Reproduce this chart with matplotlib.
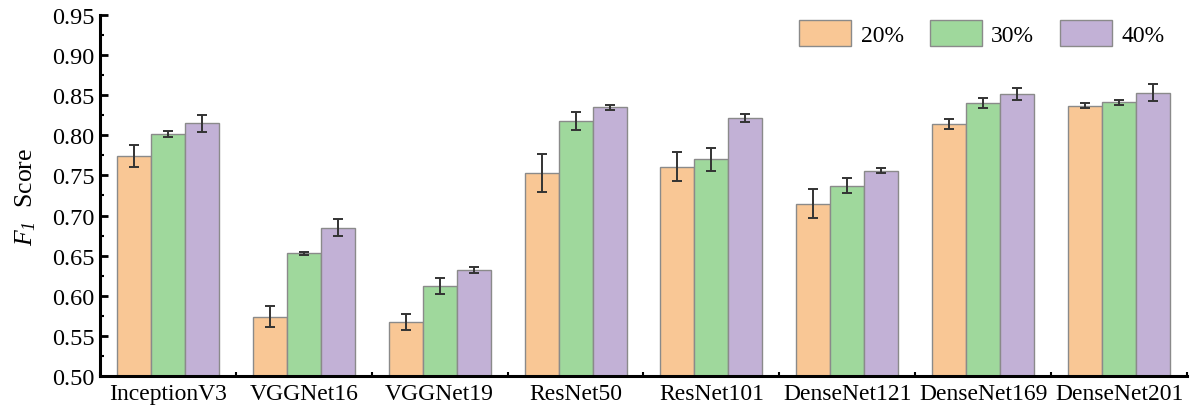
import numpy as np
import matplotlib
matplotlib.use('Agg')
import matplotlib.pyplot as plt
from matplotlib.ticker import MultipleLocator, FixedLocator

plt.rcParams['font.family'] = 'Liberation Serif'
plt.rcParams['mathtext.fontset'] = 'custom'
plt.rcParams['mathtext.rm'] = 'Liberation Serif'
plt.rcParams['mathtext.it'] = 'Liberation Serif:italic'
plt.rcParams['mathtext.sf'] = 'Liberation Serif:italic'

models = ['InceptionV3', 'VGGNet16', 'VGGNet19', 'ResNet50',
          'ResNet101', 'DenseNet121', 'DenseNet169', 'DenseNet201']
labels = ['20%', '30%', '40%']

f1_20 = [0.774, 0.574, 0.567, 0.753, 0.761, 0.715, 0.814, 0.837]
f1_30 = [0.802, 0.653, 0.612, 0.818, 0.770, 0.737, 0.840, 0.841]
f1_40 = [0.815, 0.685, 0.632, 0.835, 0.822, 0.756, 0.851, 0.853]

err_20 = [0.0135, 0.013, 0.0097, 0.0237, 0.0177, 0.018, 0.006, 0.0027]
err_30 = [0.004, 0.002, 0.010, 0.0116, 0.0143, 0.0094, 0.006, 0.003]
err_40 = [0.0106, 0.0106, 0.004, 0.003, 0.0048, 0.003, 0.0075, 0.0106]

colors = ['#F9C795', '#9FD89C', '#C2B1D6']

fig = plt.figure(figsize=(11.9, 4.14), dpi=100)
ax = fig.add_axes([0.084, 0.0894, 0.9135, 0.872])

x = np.arange(len(models))
w = 0.25
series = [(f1_20, err_20), (f1_30, err_30), (f1_40, err_40)]
for i, (vals, errs) in enumerate(series):
    ax.bar(x + (i - 1) * w, vals, w, color=colors[i], edgecolor='#8a8a8a',
           linewidth=1.0, label=labels[i], zorder=2)
    ax.errorbar(x + (i - 1) * w, vals, yerr=errs, fmt='none', ecolor='#333333',
                elinewidth=1.4, capsize=3.3, capthick=1.4, zorder=3)

ax.set_xlim(-0.5, 7.5)
ax.set_ylim(0.5, 0.95)
ax.set_xticks(x)
ax.set_xticklabels(models, fontsize=17)
ax.xaxis.set_minor_locator(FixedLocator(np.arange(-0.5, 8, 1.0)))
ax.yaxis.set_major_locator(MultipleLocator(0.05))
ax.yaxis.set_minor_locator(MultipleLocator(0.025))
ax.yaxis.set_major_formatter(matplotlib.ticker.FormatStrFormatter('%.2f'))
ax.tick_params(axis='y', labelsize=17.5)

for s in ['top', 'right']:
    ax.spines[s].set_visible(False)
for s in ['left', 'bottom']:
    ax.spines[s].set_linewidth(2.2)

ax.tick_params(which='major', direction='in', length=6, width=2)
ax.tick_params(which='minor', direction='in', length=3, width=1.5)
ax.tick_params(axis='x', which='major', pad=5)
ax.tick_params(axis='y', which='major', pad=4)

ax.set_ylabel(r'$F_{\mathsf{1}}$  Score', fontsize=18.5, labelpad=10)

leg = ax.legend(loc='upper right', ncol=3, frameon=False, fontsize=17,
                handlelength=2.2, handleheight=1.3, columnspacing=1.1,
                handletextpad=0.4, bbox_to_anchor=(0.999, 1.045))
for p in leg.get_patches():
    p.set_edgecolor('#8a8a8a')

fig.savefig('out.png', dpi=100)
